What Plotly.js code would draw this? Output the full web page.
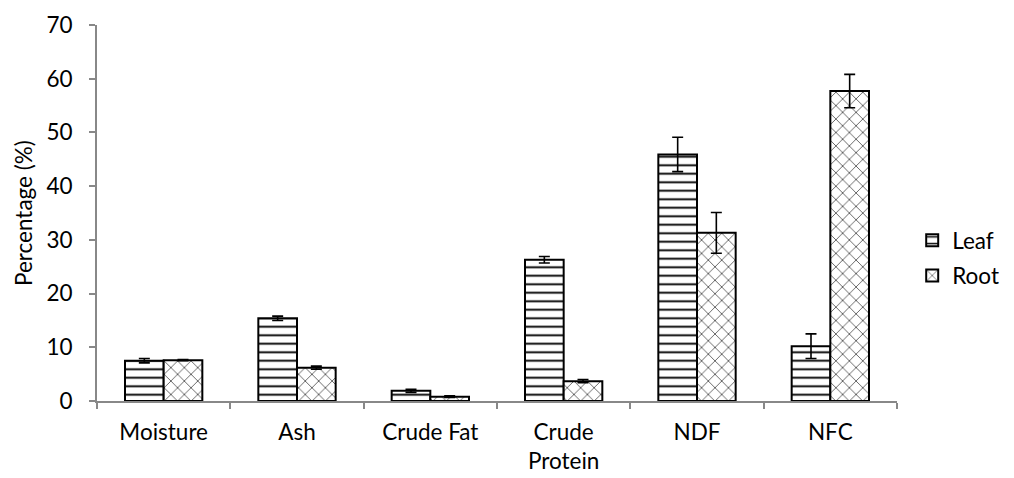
<!DOCTYPE html>
<html><head><meta charset="utf-8">
<script src="https://cdn.plot.ly/plotly-3.0.1.min.js"></script>
<style>html,body{margin:0;padding:0;background:#fff}#c{width:1014px;height:478px}</style>
</head><body><div id="c"></div>
<script>
const categories = ["Moisture", "Ash", "Crude Fat", "Crude<br>Protein", "NDF", "NFC"];
const leafValues = [7.5, 15.4, 1.9, 26.3, 45.9, 10.2];
const leafErrors = [0.4, 0.4, 0.3, 0.6, 3.2, 2.3];
const rootValues = [7.6, 6.2, 0.8, 3.7, 31.3, 57.7];
const rootErrors = [0.1, 0.3, 0.15, 0.3, 3.8, 3.1];
const yTicks = [0, 10, 20, 30, 40, 50, 60, 70];
const yTitle = "Percentage (%)";

const F = "Lato, 'Open Sans', sans-serif";
const FS = 22.5;
const traces = [
  {type:"bar", name:"Leaf", x:categories, y:leafValues, legendgroup:"a",
   error_y:{type:"data", array:leafErrors, visible:true, color:"#000", thickness:1.6, width:5.5},
   marker:{color:"#fff", line:{color:"#000", width:2},
     pattern:{shape:"-", fgcolor:"#000", bgcolor:"#fff", size:8.5, solidity:0.22}}},
  {type:"bar", name:"Root", x:categories, y:rootValues, legendgroup:"b",
   error_y:{type:"data", array:rootErrors, visible:true, color:"#000", thickness:1.6, width:5.5},
   marker:{color:"#fff", line:{color:"#000", width:2},
     pattern:{shape:"x", fgcolor:"#000", bgcolor:"#fff", size:9.5, solidity:0.12}}}
];
const layout = {
  width:1014, height:478,
  margin:{l:97, r:117, t:25, b:77, autoexpand:false},
  paper_bgcolor:"#fff", plot_bgcolor:"#fff",
  barmode:"group", bargap:0.42, bargroupgap:0,
  font:{family:F, size:FS, color:"#000"},
  showlegend:true,
  legend:{x:1.019, y:0.38, xanchor:"left", yanchor:"middle", font:{family:F, size:FS},
    tracegroupgap:3, itemwidth:30},
  xaxis:{type:"category", showline:true, linecolor:"#888", linewidth:2,
    ticks:"outside", tickson:"boundaries", ticklen:6, tickcolor:"#888", tickwidth:2,
    ticklabelstandoff:10, showgrid:false, zeroline:false,
    tickfont:{family:F, size:FS, color:"#000"}},
  yaxis:{range:[0,70], tickvals:yTicks, showline:true, linecolor:"#888", linewidth:2,
    ticks:"outside", ticklen:6, tickcolor:"#888", tickwidth:2, showgrid:false, zeroline:false,
    ticklabelstandoff:12,
    tickfont:{family:F, size:FS, color:"#000"}},
  annotations:[{text:yTitle, xref:"paper", yref:"paper", x:-0.0925, y:0.5,
    xanchor:"center", yanchor:"middle", textangle:-90, showarrow:false,
    font:{family:F, size:FS, color:"#000"}}]
};
Plotly.newPlot("c", traces, layout, {displayModeBar:false, staticPlot:true});
</script></body></html>
